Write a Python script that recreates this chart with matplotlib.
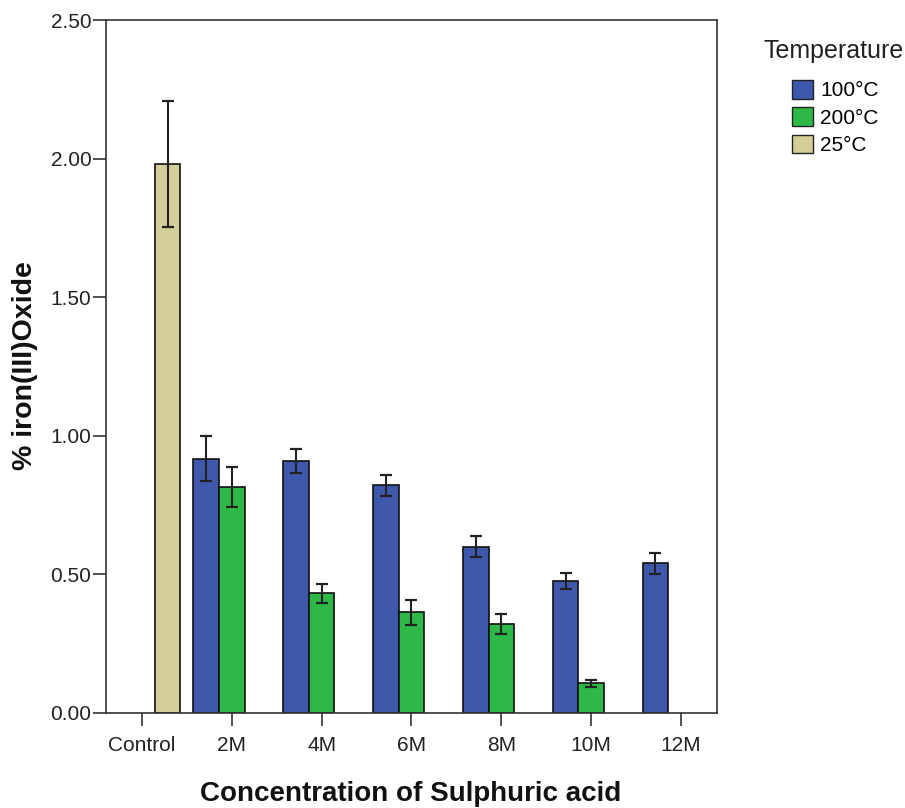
import matplotlib
matplotlib.use("Agg")
import matplotlib.pyplot as plt
import numpy as np
from matplotlib.patches import Patch

plt.rcParams['font.family'] = ['Liberation Sans', 'DejaVu Sans']

categories = ["Control", "2M", "4M", "6M", "8M", "10M", "12M"]
series_names = ["100°C", "200°C", "25°C"]
# values (nan = no bar)
v100 = [np.nan, 0.918, 0.910, 0.821, 0.600, 0.477, 0.540]
e100 = [np.nan, 0.080, 0.043, 0.038, 0.037, 0.028, 0.039]
v200 = [np.nan, 0.814, 0.432, 0.364, 0.320, 0.107, np.nan]
e200 = [np.nan, 0.072, 0.035, 0.045, 0.036, 0.012, np.nan]
v25 = [1.980, np.nan, np.nan, np.nan, np.nan, np.nan, np.nan]
e25 = [0.227, np.nan, np.nan, np.nan, np.nan, np.nan, np.nan]
yticks = [0.0, 0.5, 1.0, 1.5, 2.0, 2.5]

colors = ["#3E58AC", "#2EB848", "#D3CE97"]
values = [v100, v200, v25]
errors = [e100, e200, e25]

fig = plt.figure(figsize=(9.05, 8.08), dpi=100)
ax = fig.add_axes([106/905, 1-713/808, (717-106)/905, (713-20)/808])

x = np.arange(len(categories))
w = 0.286
offsets = [-w, 0.0, w]
for vals, errs, col, off, name in zip(values, errors, colors, offsets, series_names):
    vals = np.array(vals, dtype=float)
    errs = np.array(errs, dtype=float)
    m = ~np.isnan(vals)
    ax.bar(x[m] + off, vals[m], width=w, color=col, edgecolor="#111111",
           linewidth=1.2, zorder=2)
    ax.errorbar(x[m] + off, vals[m], yerr=errs[m], fmt='none', ecolor="#222222",
                elinewidth=1.5, capsize=4, capthick=1.6, zorder=3)

ax.set_xlim(-0.4, 6.4)
ax.set_ylim(0, 2.5)
ax.set_xticks(x)
ax.set_xticklabels(categories)
ax.set_yticks(yticks)
ax.set_yticklabels([f"{t:.2f}" for t in yticks])
ax.tick_params(axis='both', direction='out', length=9.5, width=1.2,
               color="#333333", labelsize=15, labelcolor="#222222")
ax.tick_params(axis='y', pad=1)
ax.tick_params(axis='x', pad=7)
for s in ax.spines.values():
    s.set_color("#333333")
    s.set_linewidth(1.2)

fig.text(411/905, 1-801/808, "Concentration of Sulphuric acid", ha='center',
         va='baseline', fontsize=20, fontweight='bold', color="#111111")
fig.text(25/905, 1-366/808, "% iron(III)Oxide", ha='center', va='center',
         rotation=90, fontsize=20.5, fontweight='bold', color="#111111")

fig.text(763/905, 1-51/808, "Temperature", ha='left', va='center',
         fontsize=18, color="#222222")
handles = [Patch(facecolor=c, edgecolor="#222222", linewidth=1.0) for c in colors]
fig.legend(handles, series_names, loc='upper left',
           bbox_to_anchor=(792/905, 1-80/808), frameon=False, fontsize=15,
           handlelength=1.0, handleheight=1.0, handletextpad=0.35,
           labelspacing=0.33, borderpad=0, borderaxespad=0)

fig.savefig("out.png", dpi=100)
